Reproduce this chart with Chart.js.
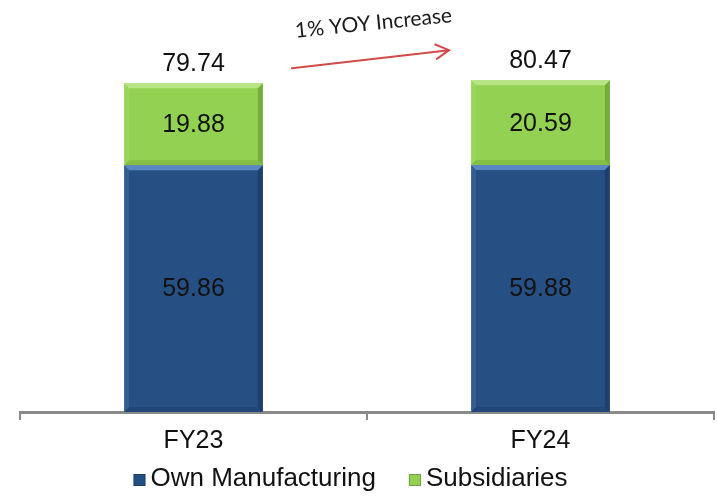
<!DOCTYPE html>
<html>
<head>
<meta charset="utf-8">
<script src="https://cdn.jsdelivr.net/npm/chart.js@4.4.1/dist/chart.umd.min.js"></script>
<style>
  html, body { margin: 0; padding: 0; background: #fff; }
  #wrap { width: 717px; height: 496px; position: relative; }
</style>
</head>
<body>
<div id="wrap"><canvas id="chart"></canvas></div>
<script>
// revenue split by year
const years = ["FY23", "FY24"];
const ownManufacturing = [59.86, 59.88];
const subsidiaries = [19.88, 20.59];
const totals = [79.74, 80.47];
const growthNote = "1% YOY Increase";

const FONT = "'Liberation Sans', Arial, sans-serif";

// lighter top/left edges and darker right/bottom edges on each bar segment
const bevelPlugin = {
  id: 'bevel',
  afterDatasetsDraw(chart) {
    const ctx = chart.ctx;
    const shades = [
      {light: 'rgba(110,155,215,0.75)', dark: 'rgba(15,40,75,0.4)'},
      {light: 'rgba(195,235,150,0.75)', dark: 'rgba(70,120,20,0.4)'}
    ];
    chart.data.datasets.forEach((ds, i) => {
      const meta = chart.getDatasetMeta(i);
      meta.data.forEach(bar => {
        const l = bar.x - bar.width / 2, r = bar.x + bar.width / 2;
        const t = bar.y, b = bar.base, s = 5;
        ctx.save();
        // top
        ctx.fillStyle = shades[i].light;
        ctx.beginPath();
        ctx.moveTo(l, t); ctx.lineTo(r, t); ctx.lineTo(r - s, t + s); ctx.lineTo(l + s, t + s);
        ctx.fill();
        // left
        ctx.globalAlpha = 0.25;
        ctx.beginPath();
        ctx.moveTo(l, t); ctx.lineTo(l + s, t + s); ctx.lineTo(l + s, b - s); ctx.lineTo(l, b);
        ctx.fill();
        ctx.globalAlpha = 1;
        // right and bottom
        ctx.fillStyle = shades[i].dark;
        ctx.beginPath();
        ctx.moveTo(r, t); ctx.lineTo(r, b); ctx.lineTo(r - s, b - s); ctx.lineTo(r - s, t + s);
        ctx.fill();
        ctx.globalAlpha = 0.5;
        ctx.beginPath();
        ctx.moveTo(l, b); ctx.lineTo(r, b); ctx.lineTo(r - s, b - s); ctx.lineTo(l + s, b - s);
        ctx.fill();
        ctx.restore();
      });
    });
  }
};

// segment values, totals above the bars, and the growth arrow
const labelPlugin = {
  id: 'labels',
  afterDatasetsDraw(chart) {
    const ctx = chart.ctx;
    ctx.save();
    ctx.font = '25px ' + FONT;
    ctx.fillStyle = '#111';
    ctx.textAlign = 'center';
    ctx.textBaseline = 'middle';
    chart.data.datasets.forEach((ds, i) => {
      chart.getDatasetMeta(i).data.forEach((bar, j) => {
        ctx.fillText(ds.data[j].toFixed(2), bar.x, (bar.y + bar.base) / 2 + 1);
      });
    });
    const topBars = chart.getDatasetMeta(chart.data.datasets.length - 1).data;
    topBars.forEach((bar, j) => {
      ctx.fillText(totals[j].toFixed(2), bar.x, bar.y - 19);
    });

    // arrow between the two totals
    const b0 = topBars[0], b1 = topBars[1];
    const x1 = b0.x + b0.width / 2 + 29, y1 = b0.y - 15;
    const x2 = b1.x - b1.width / 2 - 22, y2 = b1.y - 30;
    const ang = Math.atan2(y2 - y1, x2 - x1);
    ctx.strokeStyle = '#d24b4b';
    ctx.lineWidth = 2;
    ctx.lineCap = 'round';
    ctx.beginPath();
    ctx.moveTo(x1, y1); ctx.lineTo(x2, y2);
    ctx.moveTo(x2 - 15 * Math.cos(ang - 0.5), y2 - 15 * Math.sin(ang - 0.5));
    ctx.lineTo(x2, y2);
    ctx.lineTo(x2 - 15 * Math.cos(ang + 0.5), y2 - 15 * Math.sin(ang + 0.5));
    ctx.stroke();

    // rotated note above the arrow
    ctx.translate((x1 + x2) / 2 + 3, (y1 + y2) / 2 - 36);
    ctx.rotate(-0.1);
    ctx.font = '21px Lato, sans-serif';
    ctx.fillStyle = '#1a1a1a';
    ctx.fillText(growthNote, 0, 0);
    ctx.restore();
  }
};

// legend row under the axis labels
const legendPlugin = {
  id: 'bottomLegend',
  afterDraw(chart) {
    const ctx = chart.ctx;
    ctx.save();
    ctx.font = '26px ' + FONT;
    ctx.textBaseline = 'middle';
    ctx.textAlign = 'left';
    const box = 12, gap = 5, between = 33;
    const items = chart.data.datasets.map(ds => ({
      text: ds.label, color: ds.backgroundColor, w: ctx.measureText(ds.label).width
    }));
    let total = 0;
    items.forEach((it, i) => { total += box + gap + it.w + (i ? between : 0); });
    let x = chart.width / 2 - 8 - total / 2;
    const y = chart.height - 17;
    items.forEach(it => {
      ctx.fillStyle = it.color;
      ctx.fillRect(x, y - box / 2 + 1, box, box);
      ctx.strokeStyle = 'rgba(0,0,0,0.25)';
      ctx.lineWidth = 1;
      ctx.strokeRect(x + 0.5, y - box / 2 + 1.5, box - 1, box - 1);
      ctx.fillStyle = '#111';
      ctx.fillText(it.text, x + box + gap, y);
      x += box + gap + it.w + between;
    });
    ctx.restore();
  }
};

new Chart(document.getElementById('chart'), {
  type: 'bar',
  data: {
    labels: years,
    datasets: [
      {
        label: 'Own Manufacturing',
        data: ownManufacturing,
        backgroundColor: '#264f84',
        borderWidth: 0
      },
      {
        label: 'Subsidiaries',
        data: subsidiaries,
        backgroundColor: '#93d152',
        borderWidth: 0
      }
    ]
  },
  options: {
    responsive: true,
    maintainAspectRatio: false,
    animation: false,
    devicePixelRatio: 1,
    layout: { padding: { top: 12, left: 20, right: 3, bottom: 34 } },
    datasets: { bar: { categoryPercentage: 1, barPercentage: 0.4 } },
    plugins: {
      legend: { display: false },
      tooltip: { enabled: false }
    },
    scales: {
      x: {
        stacked: true,
        border: { color: '#8a8a8a', width: 3 },
        grid: { offset: true, drawOnChartArea: false, color: '#8a8a8a', lineWidth: 2, tickLength: 8 },
        ticks: { color: '#111', font: { family: FONT, size: 25 }, padding: 6 }
      },
      y: {
        stacked: true,
        display: false,
        min: 0,
        max: 97
      }
    }
  },
  plugins: [bevelPlugin, labelPlugin, legendPlugin]
});
</script>
</body>
</html>
